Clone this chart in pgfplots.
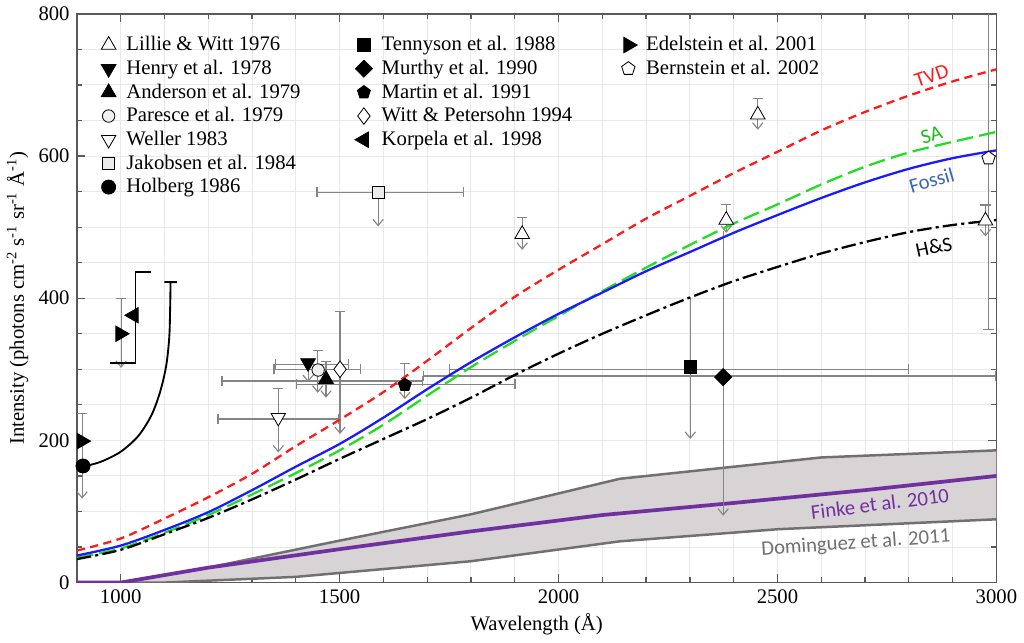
\documentclass[border=0pt]{standalone}
\usepackage{fontspec}
\setmainfont{Liberation Serif}
\newfontfamily\calfont{Carlito}
\usepackage{pgfplots}
\pgfplotsset{compat=1.18}
\usetikzlibrary{arrows.meta}
\definecolor{errg}{HTML}{858585}
\definecolor{tvd}{HTML}{FF1A1A}
\definecolor{sa}{HTML}{22DD22}
\definecolor{fos}{HTML}{1A1AFF}
\definecolor{fostxt}{HTML}{3566B8}
\definecolor{finke}{HTML}{7030A0}
\definecolor{band}{HTML}{D8D3D5}
\definecolor{bandedge}{HTML}{707070}
\pgfplotsset{
  ebar/.style={draw=errg, line width=0.55pt, forget plot},
  capdown/.style={ebar, arrows={Bar[width=5pt]-Straight Barb[length=3pt,width=5pt]}},
  down/.style={ebar, arrows={-Straight Barb[length=3pt,width=5pt]}},
  capcap/.style={ebar, arrows={Bar[width=5pt]-Bar[width=5pt]}},
  capend/.style={ebar, arrows={-Bar[width=5pt]}},
  mk/.style={only marks, mark options={draw=black, line width=0.8pt},
    legend image code/.code={\path[draw=none,fill=none] (-0.25cm,-0.1cm) rectangle (0.25cm,0.1cm); \draw[##1] plot coordinates {(0cm,0cm)};}},
  mLillie/.style={mk, mark=triangle*, mark size=4.1pt, mark options={fill=white}},
  mHenry/.style={mk, mark=triangle*, mark size=4.1pt, mark options={fill=black, rotate=180}},
  mAnderson/.style={mk, mark=triangle*, mark size=4.1pt, mark options={fill=black}},
  mParesce/.style={mk, mark=*, mark size=3.0pt, mark options={fill=white!94!black}},
  mWeller/.style={mk, mark=triangle*, mark size=4.0pt, mark options={fill=white, rotate=180}},
  mJakobsen/.style={mk, mark=square*, mark size=3.0pt, mark options={fill=white!92!black}},
  mHolberg/.style={mk, mark=*, mark size=3.4pt, mark options={fill=black}},
  mTennyson/.style={mk, mark=square*, mark size=3.1pt, mark options={fill=black}},
  mMurthy/.style={mk, mark=square*, mark size=2.9pt, mark options={fill=black, rotate=45}},
  mMartin/.style={mk, mark=pentagon*, mark size=3.3pt, mark options={fill=black}},
  mWitt/.style={mk, mark=diamond*, mark size=4.0pt, mark options={fill=white}},
  mKorpela/.style={mk, mark=triangle*, mark size=4.3pt, mark options={fill=black, rotate=90}},
  mEdelstein/.style={mk, mark=triangle*, mark size=4.3pt, mark options={fill=black, rotate=-90}},
  mBernstein/.style={mk, mark=pentagon*, mark size=3.4pt, mark options={fill=white}},
}
\begin{document}
\begin{tikzpicture}
\begin{axis}[
  scale only axis, width=15.62cm, height=9.66cm,
  xmin=900, xmax=3000, ymin=0, ymax=800,
  xtick={1000,1500,...,3000}, minor xtick={900,1000,...,3000},
  ytick={0,200,...,800}, minor ytick={0,50,...,800},
  grid=both,
  major grid style={black!9, line width=0.5pt},
  minor grid style={black!9, line width=0.5pt},
  tick align=inside, major tick length=4pt, minor tick length=2.5pt,
  tick style={black!65, line width=0.6pt},
  axis line style={black!65, line width=0.8pt},
  /pgf/number format/1000 sep={},
  /pgf/number format/assume math mode=true,
  xlabel={Wavelength (Å)},
  ylabel={Intensity (photons cm\textsuperscript{-2} s\textsuperscript{-1} sr\textsuperscript{-1} Å\textsuperscript{-1})},
  xlabel style={yshift=2pt},
  ylabel style={yshift=-2pt},
  legend columns=3,
  legend cell align=left,
  legend style={draw=none, fill=none, at={(0.003,0.974)}, anchor=north west, xshift=3.7pt,
    inner xsep=3pt, inner ysep=2pt, row sep=0pt,
    nodes={inner sep=1.5pt, text depth=0.15em},
    /tikz/column 2/.style={column sep=22pt},
    /tikz/column 4/.style={column sep=18.5pt}},
]
% Dominguez band
\addplot[draw=none, fill=band, forget plot] coordinates {(900,0)(1000,0)(1200,21)(1500,59)(1800,96)(2140,146)(2600,176)(3000,186)(3000,89)(2500,75)(2140,58)(1800,30)(1400,8)(1100,0)(900,0)} -- cycle;
\addplot[bandedge, line width=1.2pt, forget plot] coordinates {(900,0)(1000,0)(1200,21)(1500,59)(1800,96)(2140,146)(2600,176)(3000,186)};
\addplot[bandedge, line width=1.2pt, forget plot] coordinates {(900,0)(1100,0)(1400,8)(1800,30)(2140,58)(2500,75)(3000,89)};
% Finke
\addplot[finke, line width=1.8pt, forget plot] coordinates {(900,0)(1000,0)(1200,21)(1500,47)(1800,72)(2100,95)(2400,112)(2700,130)(3000,150)};

% error bars: vertical
\addplot[capdown] coordinates {(1917,514)(1917,468)};
\addplot[capdown] coordinates {(2383,533)(2383,492)};
\addplot[capdown] coordinates {(2455,682)(2455,637)};
\addplot[capdown] coordinates {(2975,532)(2975,487)};
\addplot[down] coordinates {(1428,309)(1428,282)};
\addplot[capdown] coordinates {(1450,327)(1450,267)};
\addplot[capdown] coordinates {(1469,312)(1469,260)};
\addplot[capdown] coordinates {(1501,382)(1501,209)};
\addplot[capdown] coordinates {(1360,274)(1360,183)};
\addplot[capdown] coordinates {(1649,309)(1649,258)};
\addplot[down] coordinates {(1588,549)(1588,501)};
\addplot[capdown] coordinates {(912,239)(912,118)};
\addplot[capdown] coordinates {(1001,400)(1001,302)};
\addplot[down] coordinates {(2301,400)(2301,202)};
\addplot[down] coordinates {(2376,494)(2376,94)};
\addplot[capend] coordinates {(2982,800)(2982,355)};
% error bars: horizontal
\addplot[capcap] coordinates {(1353,307)(1522,307)};
\addplot[capcap] coordinates {(1349,300)(1549,300)};
\addplot[capcap] coordinates {(1230,283.5)(1690,283.5)};
\addplot[capcap] coordinates {(1401,279)(1902,279)};
\addplot[capcap] coordinates {(1750,300)(2800,300)};
\addplot[capcap] coordinates {(1690,290.5)(3000,290.5)};
\addplot[capcap] coordinates {(1221,230)(1499,230)};
\addplot[capcap] coordinates {(1447,549)(1784,549)};

% model curves
\addplot[tvd, line width=1.1pt, dash pattern=on 4pt off 2.6pt, smooth, forget plot] coordinates {(900,45)(1000,62)(1100,90)(1200,120)(1300,153)(1400,192)(1500,229)(1600,268)(1700,312)(1800,358)(1900,402)(2000,440)(2100,476)(2200,512)(2300,544)(2400,576)(2500,606)(2600,636)(2700,662)(2800,685)(2900,705)(3000,722)};
\addplot[sa, line width=1.1pt, dash pattern=on 8pt off 3pt, smooth, forget plot] coordinates {(900,35)(1000,48)(1100,70)(1200,95)(1300,124)(1400,154)(1500,186)(1600,222)(1700,263)(1800,303)(1900,340)(2000,375)(2100,410)(2200,443)(2300,475)(2400,505)(2500,532)(2600,560)(2700,585)(2800,605)(2900,620)(3000,634)};
\addplot[fos, line width=1.1pt, smooth, forget plot] coordinates {(900,38)(1000,52)(1100,74)(1200,99)(1300,130)(1400,163)(1500,195)(1600,232)(1700,272)(1800,310)(1900,345)(2000,378)(2100,408)(2200,438)(2300,465)(2400,492)(2500,517)(2600,541)(2700,563)(2800,582)(2900,597)(3000,608)};
\addplot[black, line width=1.1pt, dash pattern=on 7pt off 2pt on 1.5pt off 2pt, smooth, forget plot] coordinates {(900,33)(1000,46)(1100,68)(1200,91)(1300,117)(1400,145)(1500,174)(1600,202)(1700,230)(1800,260)(1900,292)(2000,322)(2100,350)(2200,376)(2300,401)(2400,424)(2500,444)(2600,463)(2700,479)(2800,493)(2900,503)(3000,510)};

% Holberg curve and Korpela bracket
\addplot[black, line width=0.9pt, smooth, arrows={-Bar[width=6pt]}, forget plot] coordinates {(914,163)(955,170)(1000,184)(1040,206)(1070,235)(1090,268)(1104,305)(1111,345)(1113,385)(1114,424)};
\addplot[black, line width=0.9pt, forget plot] coordinates {(1069,437)(1034,437)(1034,309)(975,309)};

% data markers
\addplot[mLillie, forget plot] coordinates {(1917,490)(2383,510)(2455,658)(2975,509)};
\addplot[mHenry, forget plot] coordinates {(1428,309)};
\addplot[mAnderson, forget plot] coordinates {(1469,286)};
\addplot[mParesce, forget plot] coordinates {(1451,299)};
\addplot[mWeller, forget plot] coordinates {(1360,232)};
\addplot[mJakobsen, forget plot] coordinates {(1588,549)};
\addplot[mHolberg, forget plot] coordinates {(914,164)};
\addplot[mTennyson, forget plot] coordinates {(2301,303)};
\addplot[mMurthy, forget plot] coordinates {(2376,289)};
\addplot[mMartin, forget plot] coordinates {(1649,278)};
\addplot[mWitt, forget plot] coordinates {(1501,300)};
\addplot[mKorpela, forget plot] coordinates {(1030,376)};
\addplot[mEdelstein, forget plot] coordinates {(911,199)(999,350)};
\addplot[mBernstein, forget plot] coordinates {(2982,597)};

% curve labels
\node[tvd, rotate=19, font=\calfont] at (axis cs:2852,713) {TVD};
\node[sa!85!black, rotate=16, font=\calfont] at (axis cs:2852,630) {SA};
\node[fostxt, rotate=16, font=\calfont] at (axis cs:2852,566) {Fossil};
\node[black, rotate=12, font=\calfont] at (axis cs:2857,472) {H\&S};
\node[finke, rotate=7, font=\calfont] at (axis cs:2734,111) {Finke et al. 2010};
\node[bandedge, rotate=4, font=\calfont] at (axis cs:2679,55) {Dominguez et al. 2011};

% legend (row-major order for 3 columns)
\addlegendimage{mLillie}\addlegendentry{Lillie \& Witt 1976}
\addlegendimage{mTennyson}\addlegendentry{Tennyson et al. 1988}
\addlegendimage{mEdelstein}\addlegendentry{Edelstein et al. 2001}
\addlegendimage{mHenry}\addlegendentry{Henry et al. 1978}
\addlegendimage{mMurthy}\addlegendentry{Murthy et al. 1990}
\addlegendimage{mBernstein}\addlegendentry{Bernstein et al. 2002}
\addlegendimage{mAnderson}\addlegendentry{Anderson et al. 1979}
\addlegendimage{mMartin}\addlegendentry{Martin et al. 1991}
\addlegendimage{empty legend}\addlegendentry{}
\addlegendimage{mParesce}\addlegendentry{Paresce et al. 1979}
\addlegendimage{mWitt}\addlegendentry{Witt \& Petersohn 1994}
\addlegendimage{empty legend}\addlegendentry{}
\addlegendimage{mWeller}\addlegendentry{Weller 1983}
\addlegendimage{mKorpela}\addlegendentry{Korpela et al. 1998}
\addlegendimage{empty legend}\addlegendentry{}
\addlegendimage{mJakobsen}\addlegendentry{Jakobsen et al. 1984}
\addlegendimage{empty legend}\addlegendentry{}
\addlegendimage{empty legend}\addlegendentry{}
\addlegendimage{mHolberg}\addlegendentry{Holberg 1986}
\addlegendimage{empty legend}\addlegendentry{}
\addlegendimage{empty legend}\addlegendentry{}
\end{axis}
\end{tikzpicture}
\end{document}
